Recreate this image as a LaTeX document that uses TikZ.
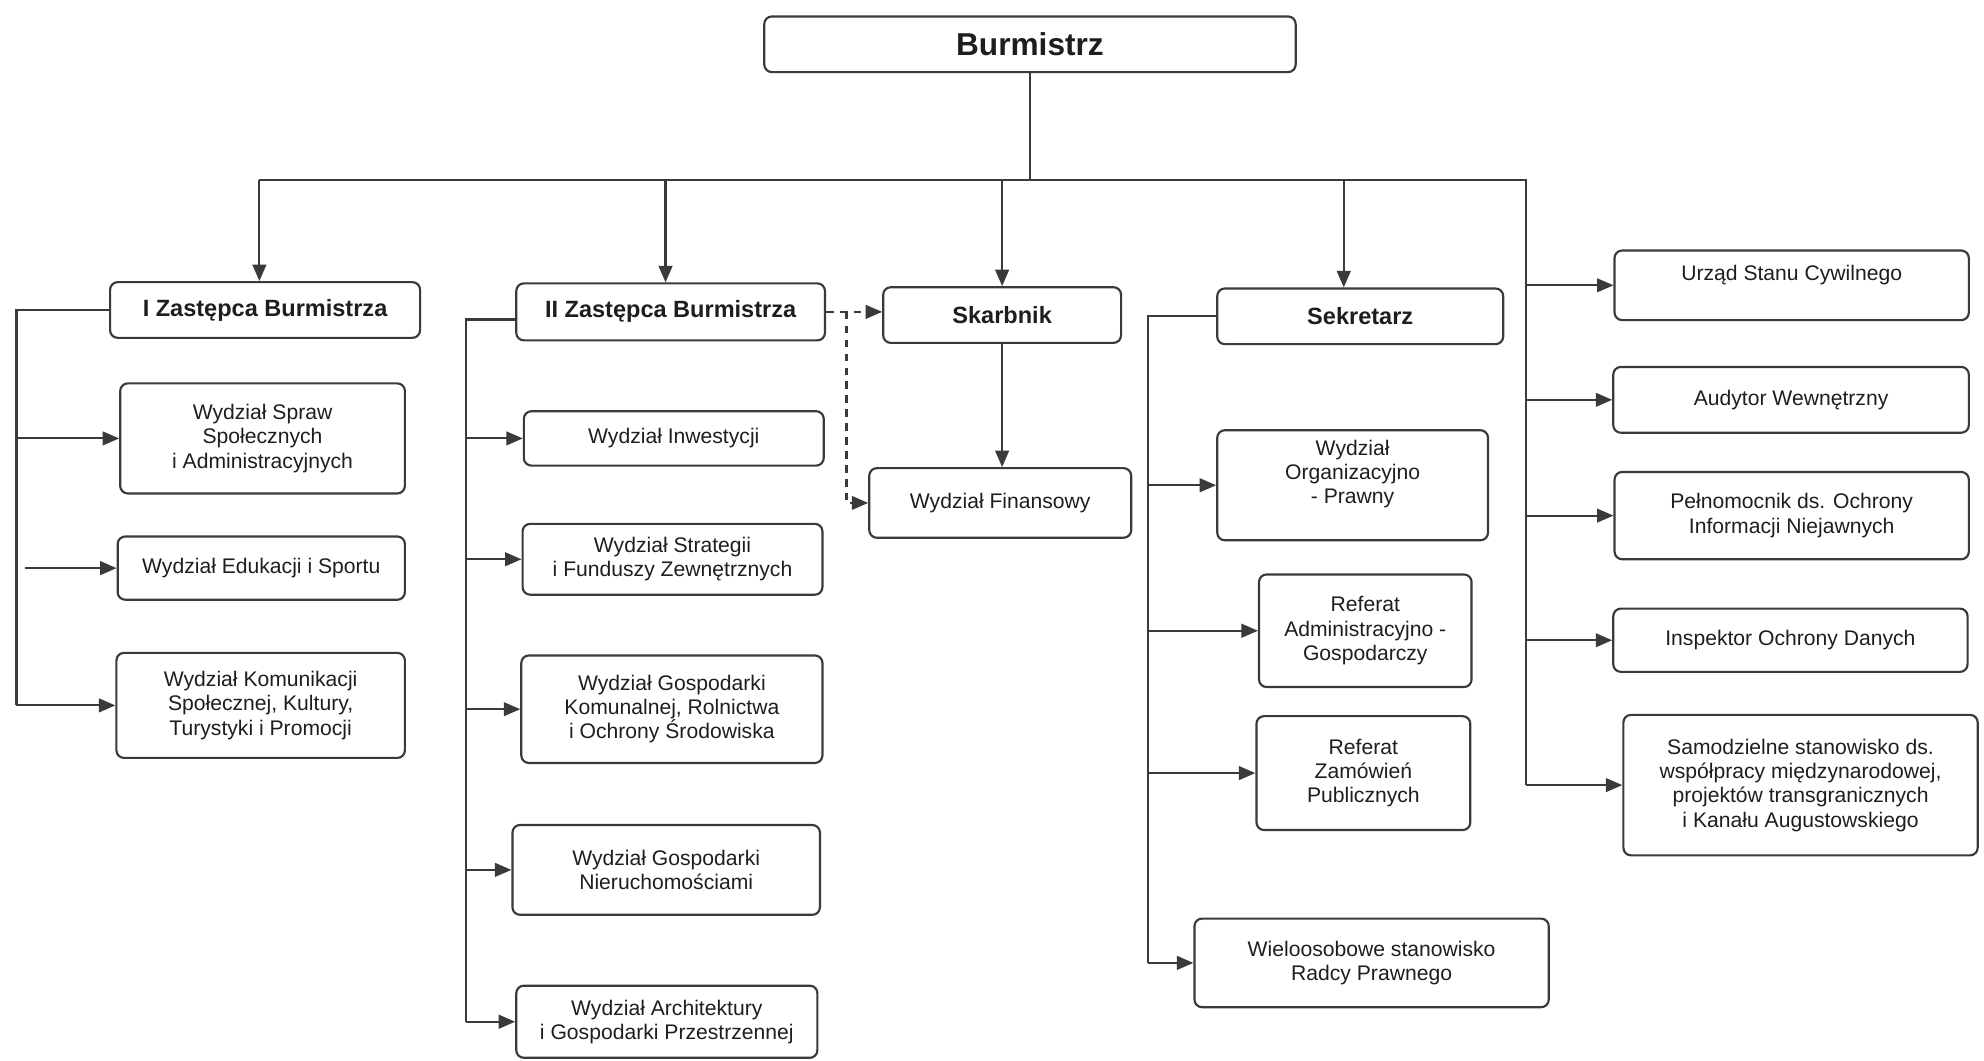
\documentclass[tikz,border=0pt]{standalone}
\usepackage{fontspec}
\setmainfont{Liberation Sans}
\usetikzlibrary{arrows.meta}
\definecolor{linegray}{HTML}{3A3A3A}
\definecolor{textgray}{HTML}{1E1E1E}
\tikzset{
	box/.style={draw=linegray, line width=0.85pt, rounded corners=3pt, fill=white, align=center, inner sep=0pt, text=textgray, font=\fontsize{8.35}{9.6}\selectfont},
	head/.style={box, font=\bfseries\fontsize{9.3}{11}\selectfont},
	dims/.style 2 args={minimum width=#1pt, minimum height=#2pt},
	link/.style={draw=linegray, line width=0.85pt},
	arr/.style={link, -{Triangle[length=6.5pt,width=5.4pt]}},
}
\begin{document}
\begin{tikzpicture}[x=0.5pt, y=-0.5pt]
	\useasboundingbox (0,0) rectangle (1568,838);
	\node[box, font=\bfseries\fontsize{12.5}{14}\selectfont, dims={210}{22}] (burm) at (814,35) {Burmistrz};
	\node[head, dims={122.5}{22}] (zast1) at (209.5,245) {I Zastępca Burmistrza};
	\node[head, dims={122}{22.5}] (zast2) at (530,246.5) {II Zastępca Burmistrza};
	\node[head, dims={94}{22}] (skarb) at (792,249) {Skarbnik};
	\node[head, dims={113}{22}] (sekr) at (1075,250) {Sekretarz};

	\node[box, dims={140}{27.5}] (usc) at (1416,225.5) {Urząd Stanu Cywilnego\\\mbox{}};
	\node[box, dims={140.5}{26}] (audyt) at (1415.5,316) {Audytor Wewnętrzny};
	\node[box, dims={140}{34.5}] (pelnom) at (1416,407.5) {Pełnomocnik ds. Ochrony\\Informacji Niejawnych};
	\node[box, dims={140}{25}] (iod) at (1415,506) {Inspektor Ochrony Danych};
	\node[box, dims={140}{55.5}] (samodz) at (1423,620.5) {Samodzielne stanowisko ds.\\współpracy międzynarodowej,\\projektów transgranicznych\\i Kanału Augustowskiego};

	\node[box, dims={112.5}{43.5}] (wss) at (207.5,346.5) {Wydział Spraw\\Społecznych\\i Administracyjnych};
	\node[box, dims={113.5}{25}] (wes) at (206.5,449) {Wydział Edukacji i Sportu};
	\node[box, dims={114}{41.5}] (wks) at (206,557.5) {Wydział Komunikacji\\Społecznej, Kultury,\\Turystyki i Promocji};

	\node[box, dims={118.5}{21.5}] (winw) at (532.5,346.5) {Wydział Inwestycji};
	\node[box, dims={118.5}{28}] (wsfz) at (531.5,442) {Wydział Strategii\\i Funduszy Zewnętrznych};
	\node[box, dims={119}{42.5}] (wgk) at (531,560.5) {Wydział Gospodarki\\Komunalnej, Rolnictwa\\i Ochrony Środowiska};
	\node[box, dims={121.5}{35.5}] (wgn) at (526.5,687.5) {Wydział Gospodarki\\Nieruchomościami};
	\node[box, dims={119}{28.5}] (wagp) at (527,807.5) {Wydział Architektury\\i Gospodarki Przestrzennej};

	\node[box, dims={103.5}{27.5}] (wfin) at (790.5,397.5) {Wydział Finansowy};

	\node[box, dims={107}{43.5}] (wop) at (1069,383.5) {Wydział\\Organizacyjno\\- Prawny\\[1pt]};
	\node[box, dims={84}{44.5}] (rag) at (1079,498.5) {Referat\\Administracyjno -\\Gospodarczy};
	\node[box, dims={84.5}{45}] (rzp) at (1077.5,611) {Referat\\Zamówień\\Publicznych};
	\node[box, dims={140}{35}] (wsrp) at (1084,761) {Wieloosobowe stanowisko\\Radcy Prawnego};

	\coordinate (busL) at (205,142);
	\coordinate (busR) at (1206,142);
	\coordinate (b2) at (526,142);
	\coordinate (b3) at (792,142);
	\coordinate (b4) at (1062,142);
	\coordinate (l1) at (13,0);
	\coordinate (l1b) at (19.5,0);
	\coordinate (l2) at (368,0);
	\coordinate (l3) at (907,0);
	\coordinate (dsh) at (669,0);

	\draw[link] (burm.south) -- (burm.south |- busL);
	\draw[link] (busL) -- (busR) -- (busR |- samodz.west);
	\draw[arr] (busL) -- (busL |- zast1.north);
	\draw[arr] (b2) -- (b2 |- zast2.north);
	\draw[arr] (b3) -- (b3 |- skarb.north);
	\draw[arr] (b4) -- (b4 |- sekr.north);

	\foreach \t in {usc,audyt,pelnom,iod,samodz}
		\draw[arr] (busR |- \t.west) -- (\t.west);

	\draw[link] (zast1.west) -- (zast1.west -| l1) -- (l1 |- wks.west);
	\draw[arr] (l1 |- wss.west) -- (wss.west);
	\draw[arr] (l1b |- wes.west) -- (wes.west);
	\draw[arr] (l1 |- wks.west) -- (wks.west);

	\draw[link] ([yshift=-3pt]zast2.west) -- ([yshift=-3pt]zast2.west -| l2) -- (l2 |- wagp.west);
	\foreach \t in {winw,wsfz,wgk,wgn,wagp}
		\draw[arr] (l2 |- \t.west) -- (\t.west);

	\draw[arr, dash pattern=on 3pt off 2.5pt] (zast2.east) -- (zast2.east -| skarb.west);
	\draw[arr, dash pattern=on 3pt off 2.5pt] (zast2.east -| dsh) -- (dsh |- wfin.west) -- (wfin.west);
	\draw[arr] (skarb.south) -- (skarb.south |- wfin.north);

	\draw[link] (sekr.west) -- (sekr.west -| l3) -- (l3 |- wsrp.west);
	\foreach \t in {wop,rag,rzp,wsrp}
		\draw[arr] (l3 |- \t.west) -- (\t.west);
\end{tikzpicture}
\end{document}
